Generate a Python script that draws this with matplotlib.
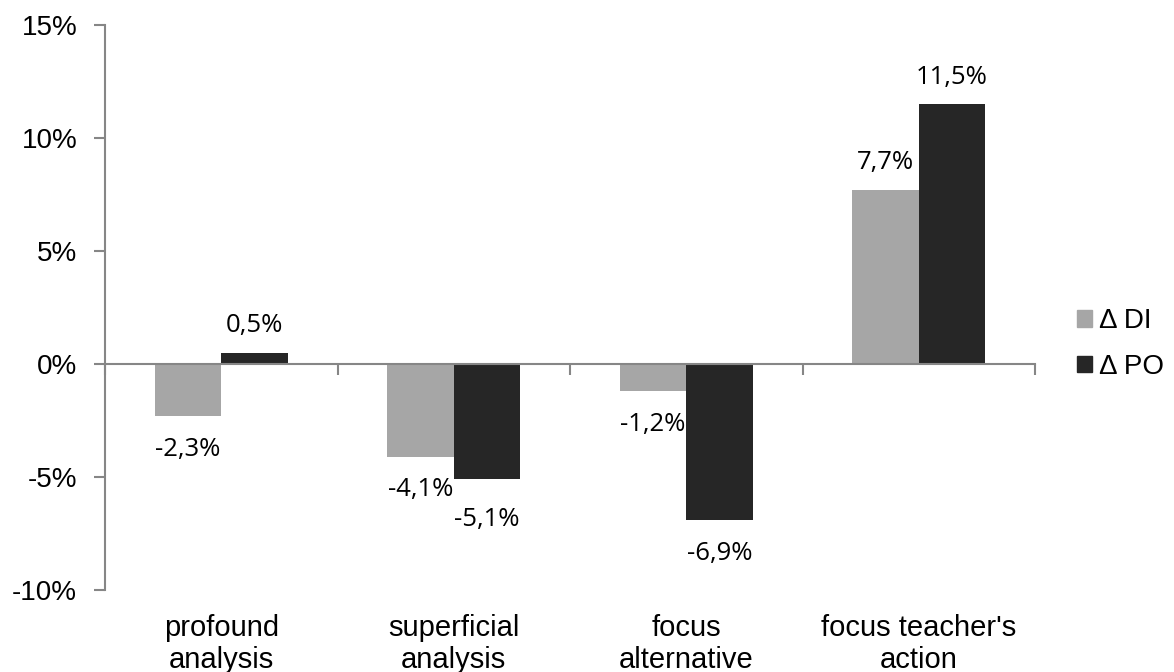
import matplotlib.pyplot as plt
from matplotlib.patches import Patch
from matplotlib.ticker import FixedLocator, FuncFormatter
import numpy as np

# --- data ---------------------------------------------------------------------
categories = ["profound\nanalysis", "superficial\nanalysis",
              "focus\nalternative", "focus teacher's\naction"]
series_names = ["\u0394 DI", "\u0394 PO"]
delta_di = [-2.3, -4.1, -1.2, 7.7]
delta_po = [0.5, -5.1, -6.9, 11.5]
y_ticks = [-10, -5, 0, 5, 10, 15]

DI_COLOR = "#A6A6A6"
PO_COLOR = "#262626"
AXIS_COLOR = "#868686"
BAR_W = 0.285

fig = plt.figure(figsize=(11.74, 6.72), dpi=100)
ax = fig.add_axes([105 / 1174, 1 - 590 / 672, 930 / 1174, 565 / 672])

x = np.arange(len(categories))
bars_di = ax.bar(x - BAR_W / 2, delta_di, BAR_W, color=DI_COLOR, zorder=2)
bars_po = ax.bar(x + BAR_W / 2, delta_po, BAR_W, color=PO_COLOR, zorder=2)

ax.set_xlim(-0.5, len(categories) - 0.5)
ax.set_ylim(-10, 15)

# axis styling: left spine plus a horizontal axis through zero
for side in ("top", "right"):
    ax.spines[side].set_visible(False)
ax.spines["bottom"].set_position(("data", 0))
for side in ("left", "bottom"):
    ax.spines[side].set_color(AXIS_COLOR)
    ax.spines[side].set_linewidth(1.5)

ax.yaxis.set_major_locator(FixedLocator(y_ticks))
ax.yaxis.set_major_formatter(FuncFormatter(lambda v, p: f"{v:.0f}%"))
ax.tick_params(axis="y", direction="out", length=8, width=1.5, color=AXIS_COLOR,
               pad=12, labelsize=20)
for lab in ax.get_yticklabels():
    lab.set_family("Liberation Sans")

# category boundaries as ticks on the zero line, names below the plot
ax.set_xticks(np.arange(len(categories) + 1) - 0.5)
ax.set_xticklabels([])
ax.tick_params(axis="x", direction="out", length=8, width=1.5, color=AXIS_COLOR)
for xi, name in zip(x, categories):
    ax.annotate(name, xy=(xi, 0), xycoords=("data", "axes fraction"),
                xytext=(0, -17), textcoords="offset points",
                ha="center", va="top", fontsize=21, linespacing=1.2,
                family="Liberation Sans")

# value labels outside the bar ends
nudge = {(1, 1): -5}
for s, vals in enumerate((delta_di, delta_po)):
    for i, v in enumerate(vals):
        dx = -BAR_W / 2 if s == 0 else BAR_W / 2
        dy = 19.5 if v >= 0 else -24
        dy += nudge.get((i, s), 0)
        ax.annotate(f"{v:.1f}%".replace(".", ","), xy=(i + dx, v),
                    xytext=(0, dy), textcoords="offset points",
                    ha="center", va="center", fontsize=18.5, family="Open Sans")

handles = [Patch(color=DI_COLOR), Patch(color=PO_COLOR)]
fig.legend(handles, series_names, loc="center left",
           bbox_to_anchor=(1052 / 1174, 1 - 344 / 672), frameon=False,
           prop={"family": "Liberation Sans", "size": 20},
           handlelength=0.54, handleheight=0.54, handletextpad=0.25,
           labelspacing=0.7)

fig.savefig("out.png", dpi=100)
